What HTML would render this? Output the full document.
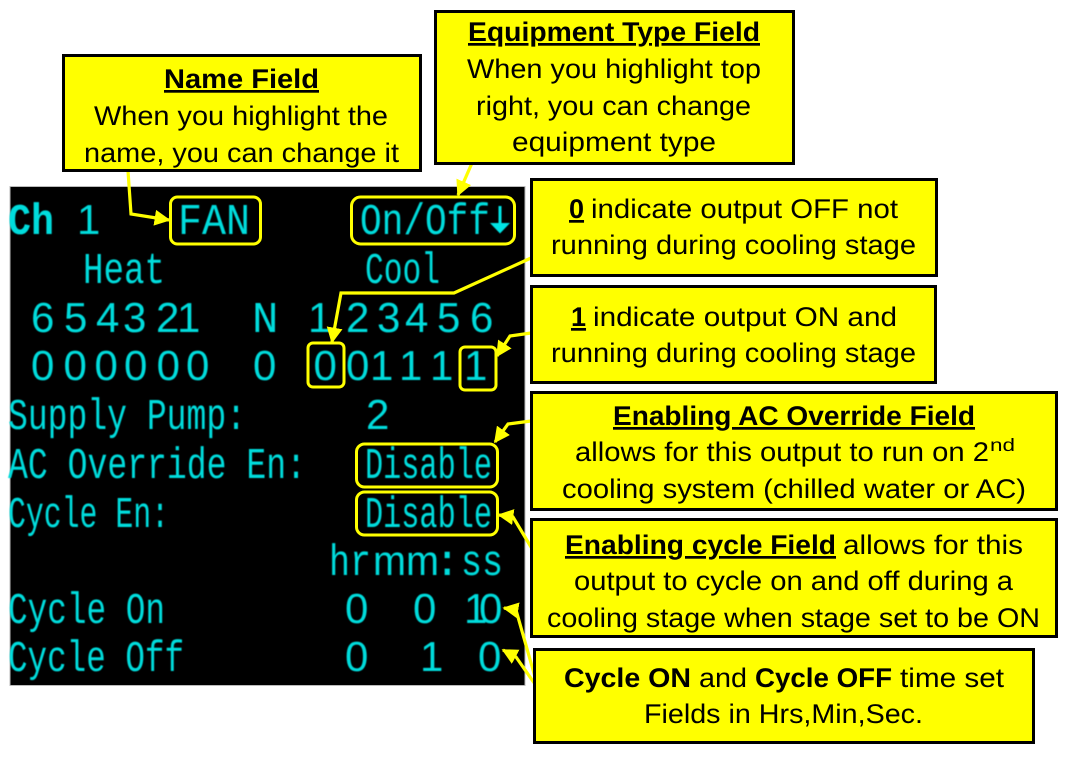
<!DOCTYPE html>
<html><head><meta charset="utf-8"><style>
html,body{margin:0;padding:0;background:#fff}
svg{display:block}
.c{font-family:"Liberation Sans",sans-serif;font-size:27px;fill:#000}
.b{font-weight:bold}
.s{font-family:"Liberation Mono",monospace;font-size:44px;fill:#00dcdc;filter:url(#bl)}
.d{font-family:"Liberation Sans",sans-serif;font-size:42px;fill:#00dcdc;filter:url(#bl)}
.box{fill:#ff0;stroke:#000;stroke-width:3}
.hl{fill:none;stroke:#ff0;stroke-width:3}
.ar{fill:none;stroke:#ff0;stroke-width:3.2}
</style></head><body>
<svg width="1087" height="773" viewBox="0 0 1087 773" xmlns="http://www.w3.org/2000/svg" text-rendering="geometricPrecision">
<defs>
<filter id="bl" x="-10%" y="-20%" width="120%" height="140%"><feGaussianBlur stdDeviation="0.5"/></filter>
<marker id="a" viewBox="0 0 10 10" refX="9" refY="5" markerWidth="5" markerHeight="5" orient="auto" markerUnits="strokeWidth"><path d="M0 0L10 5L0 10z" fill="#ff0"/></marker>
</defs>
<rect width="1087" height="773" fill="#fff"/>
<rect x="10" y="186.500" width="515" height="499" fill="#000" stroke="#bbb" stroke-width="1"/>

<text class="s b" x="8" y="234" textLength="46" lengthAdjust="spacingAndGlyphs">Ch</text>
<text class="d" x="77" y="234">1</text>
<text class="s" x="178" y="234" textLength="72" lengthAdjust="spacingAndGlyphs">FAN</text>
<text class="s" x="360" y="234" textLength="130" lengthAdjust="spacingAndGlyphs">On/Off</text>
<path d="M498.500 206h3v17h8.500l-10 10.500l-10-10.500h8.500z" fill="#00e4e4" filter="url(#bl)"/>
<text class="s" x="83" y="283" textLength="82" lengthAdjust="spacingAndGlyphs">Heat</text>
<text class="s" x="365" y="283" textLength="75" lengthAdjust="spacingAndGlyphs">Cool</text>
<text class="d" x="31 64 96 123 156 177" y="332">654321</text>
<text class="s" x="252" y="332">N</text>
<text class="d" x="308 346 377 405 437 470" y="332">123456</text>
<text class="d" x="31 63.500 94.500 124 156.600 186" y="380">000000</text>
<text class="d" x="253" y="380">0</text>
<text class="d" x="313.500 346 370 399 430 464" y="380">001111</text>
<text class="s" x="8" y="429" textLength="238" lengthAdjust="spacingAndGlyphs">Supply Pump:</text>
<text class="d" x="366" y="429">2</text>
<text class="s" x="8" y="478" textLength="298" lengthAdjust="spacingAndGlyphs">AC Override En:</text>
<text class="s" x="365" y="478" textLength="127" lengthAdjust="spacingAndGlyphs">Disable</text>
<text class="s" x="8" y="527" textLength="161" lengthAdjust="spacingAndGlyphs">Cycle En:</text>
<text class="s" x="365" y="527" textLength="127" lengthAdjust="spacingAndGlyphs">Disable</text>
<text class="s" x="329" y="575" textLength="42" lengthAdjust="spacingAndGlyphs">hr</text>
<text class="d" x="373" y="575" textLength="66" lengthAdjust="spacingAndGlyphs">mm</text>
<text class="s" x="434" y="575">:</text>
<text class="s" x="461" y="575" textLength="42" lengthAdjust="spacingAndGlyphs">ss</text>
<text class="s" x="8" y="623" textLength="157" lengthAdjust="spacingAndGlyphs">Cycle On</text>
<text class="d" x="345 413" y="623">00</text>
<text class="d" x="464 479" y="623">10</text>
<text class="s" x="8" y="671" textLength="176" lengthAdjust="spacingAndGlyphs">Cycle Off</text>
<text class="d" x="345" y="671">0</text>
<text class="d" x="420" y="671">1</text>
<text class="d" x="478" y="671">0</text>

<rect class="hl" x="170.500" y="197" width="90" height="47" rx="7"/>
<rect class="hl" x="351.500" y="197" width="163" height="47" rx="9"/>
<rect class="hl" x="308" y="343" width="36" height="44" rx="5"/>
<rect class="hl" x="460" y="347" width="36" height="43" rx="5"/>
<rect class="hl" x="356.500" y="444" width="141" height="43" rx="8"/>
<rect class="hl" x="356.500" y="492" width="141" height="43" rx="8"/>

<polyline class="ar" marker-end="url(#a)" points="128,171 131,214 169,220"/>
<polyline class="ar" marker-end="url(#a)" points="472,163 458,195"/>
<polyline class="ar" marker-end="url(#a)" points="531,258 454,293 341,293 332,342"/>
<polyline class="ar" marker-end="url(#a)" points="531,333 510,336 497,356"/>
<polyline class="ar" marker-end="url(#a)" points="531,421 508,424 495,442"/>
<polyline class="ar" marker-end="url(#a)" points="534,552 513,517 499,515"/>
<polyline class="ar" marker-end="url(#a)" points="537,684 516,610 504,608"/>
<polyline class="ar" marker-end="url(#a)" points="537,687 516,657 503,650"/>

<rect class="box" x="63.500" y="55.500" width="357" height="115"/>
<text class="c b" x="164" y="88" textLength="155" lengthAdjust="spacingAndGlyphs" text-decoration="underline">Name Field</text>
<text class="c" x="94" y="125" textLength="294" lengthAdjust="spacingAndGlyphs">When you highlight the</text>
<text class="c" x="84" y="162" textLength="315" lengthAdjust="spacingAndGlyphs">name, you can change it</text>

<rect class="box" x="435.500" y="11.500" width="358" height="152"/>
<text class="c b" x="468" y="41" textLength="292" lengthAdjust="spacingAndGlyphs" text-decoration="underline">Equipment Type Field</text>
<text class="c" x="467" y="78" textLength="294" lengthAdjust="spacingAndGlyphs">When you highlight top</text>
<text class="c" x="476" y="115" textLength="275" lengthAdjust="spacingAndGlyphs">right, you can change</text>
<text class="c" x="512" y="151" textLength="204" lengthAdjust="spacingAndGlyphs">equipment type</text>

<rect class="box" x="531.500" y="179.500" width="405" height="96"/>
<text class="c b" x="569" y="218" text-decoration="underline">0</text>
<text class="c" x="591" y="218" textLength="307" lengthAdjust="spacingAndGlyphs">indicate output OFF not</text>
<text class="c" x="551" y="254" textLength="365" lengthAdjust="spacingAndGlyphs">running during cooling stage</text>

<rect class="box" x="531.500" y="286.500" width="404" height="96"/>
<text class="c b" x="571" y="326" text-decoration="underline">1</text>
<text class="c" x="593" y="326" textLength="304" lengthAdjust="spacingAndGlyphs">indicate output ON and</text>
<text class="c" x="551" y="362" textLength="365" lengthAdjust="spacingAndGlyphs">running during cooling stage</text>

<rect class="box" x="531.500" y="392.500" width="525" height="117"/>
<text class="c b" x="613" y="425" textLength="362" lengthAdjust="spacingAndGlyphs" text-decoration="underline">Enabling AC Override Field</text>
<text class="c" x="575" y="461" textLength="414" lengthAdjust="spacingAndGlyphs">allows for this output to run on 2</text>
<text class="c" x="990" y="451" style="font-size:18px" textLength="25" lengthAdjust="spacingAndGlyphs">nd</text>
<text class="c" x="562" y="498" textLength="464" lengthAdjust="spacingAndGlyphs">cooling system (chilled water or AC)</text>

<rect class="box" x="531.500" y="519.500" width="525" height="117"/>
<text class="c b" x="565" y="554" textLength="271" lengthAdjust="spacingAndGlyphs" text-decoration="underline">Enabling cycle Field</text>
<text class="c" x="843" y="554" textLength="180" lengthAdjust="spacingAndGlyphs">allows for this</text>
<text class="c" x="574" y="590" textLength="439" lengthAdjust="spacingAndGlyphs">output to cycle on and off during a</text>
<text class="c" x="547" y="627" textLength="493" lengthAdjust="spacingAndGlyphs">cooling stage when stage set to be ON</text>

<rect class="box" x="534.500" y="649.500" width="499" height="93"/>
<text class="c b" x="564" y="687" textLength="127" lengthAdjust="spacingAndGlyphs">Cycle ON</text>
<text class="c" x="699" y="687" textLength="48" lengthAdjust="spacingAndGlyphs">and</text>
<text class="c b" x="755" y="687" textLength="137" lengthAdjust="spacingAndGlyphs">Cycle OFF</text>
<text class="c" x="900" y="687" textLength="104" lengthAdjust="spacingAndGlyphs">time set</text>
<text class="c" x="644" y="723" textLength="279" lengthAdjust="spacingAndGlyphs">Fields in Hrs,Min,Sec.</text>
</svg>
</body></html>
